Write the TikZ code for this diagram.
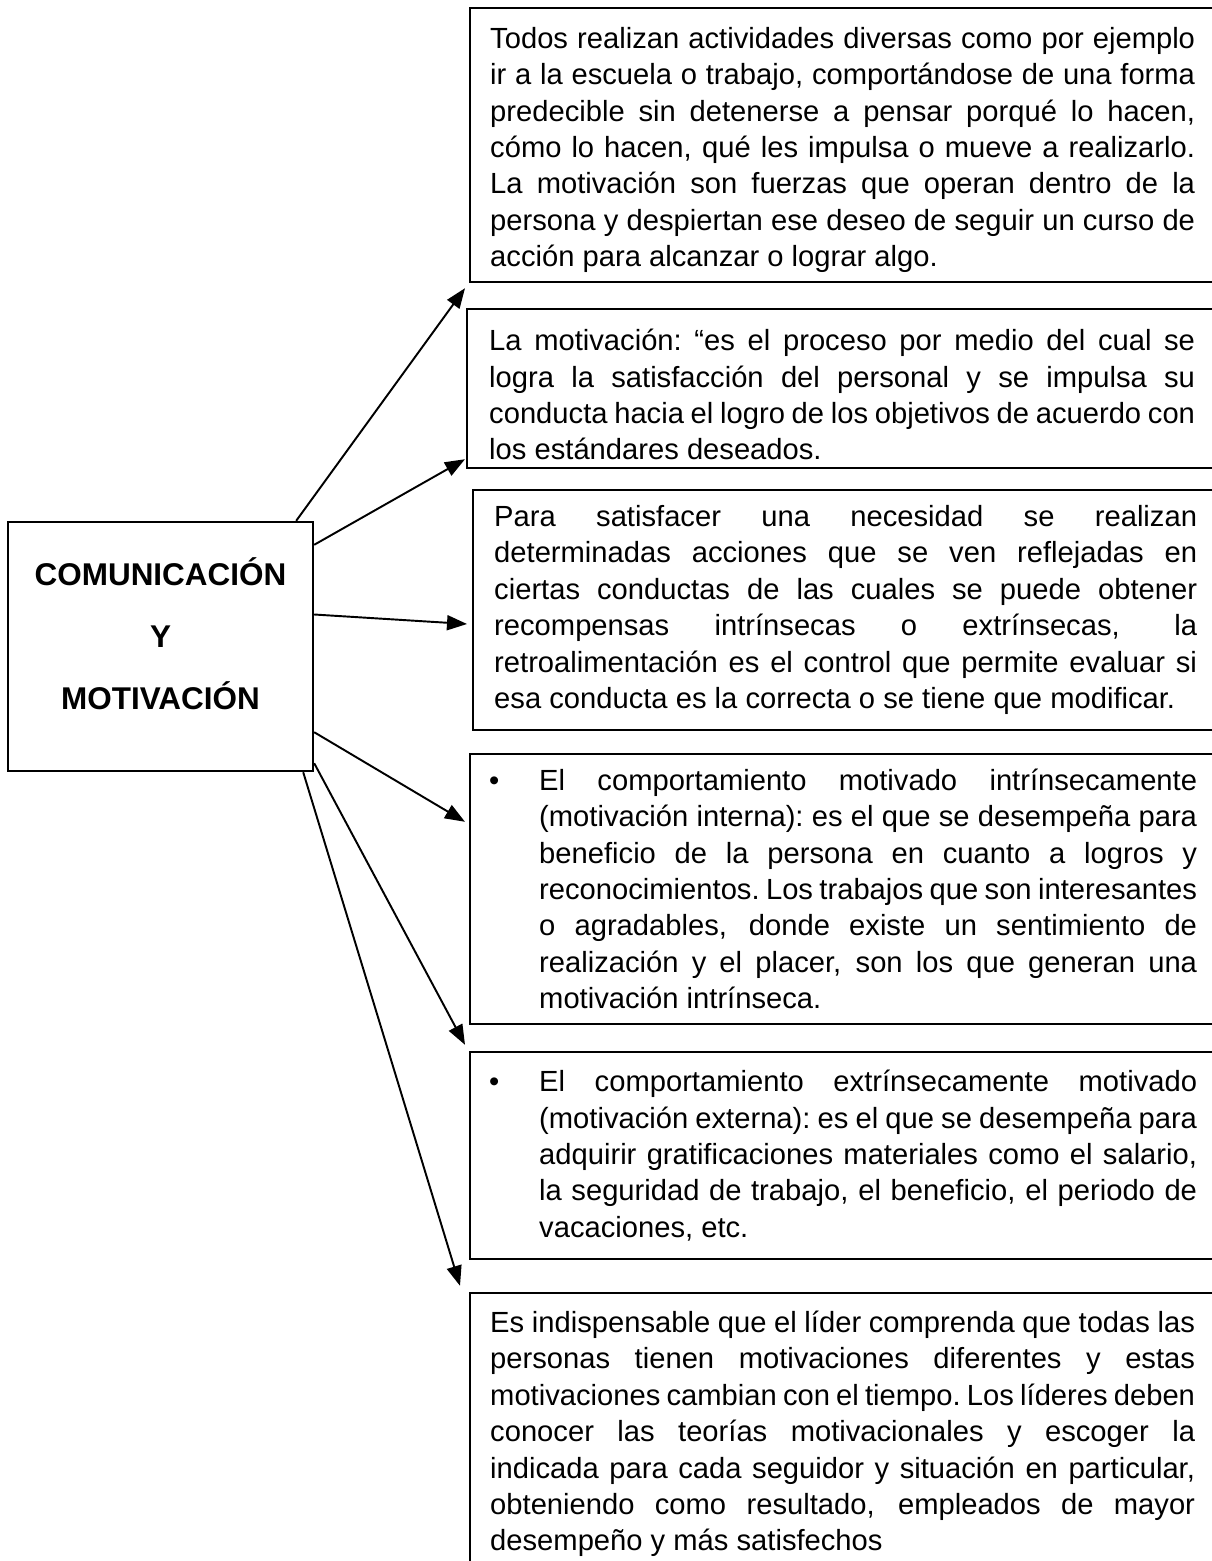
\documentclass[tikz,border=0pt]{standalone}
\usepackage{fontspec}
\setmainfont{Liberation Sans}
\usetikzlibrary{arrows.meta,calc,positioning}
\tikzstyle{txtbox} = [draw, line width=1.4pt, anchor=west, inner xsep=0.4cm, inner ysep=0pt, font=\fontsize{16.6}{20.7}\selectfont]
\tikzstyle{hubbox} = [draw, line width=1.4pt, minimum width=6.1cm, minimum height=4.98cm, inner sep=0pt, font=\fontsize{17.9}{35.2}\selectfont\bfseries]
\tikzstyle{arrow} = [line width=1.1pt, -{Triangle[length=0.4cm,width=0.3cm]}]
\newcommand{\boxtext}[2]{\parbox{#1}{\spaceskip=0.278em plus 0.8em minus 0.12em\xspaceskip=\spaceskip
\tolerance=10000 \hbadness=10000 \hfuzz=20pt #2}\hspace{1cm}}
\newcommand{\bul}{\noindent\llap{\textbullet\hspace{0.8cm}}}

\begin{document}
\begin{tikzpicture}[x=0.02cm,y=-0.02cm]
\useasboundingbox (0,0) rectangle (1212,1561);
\clip (0,0) rectangle (1212,1561);
% centre
\draw (160.5,646.5) node (hub) [hubbox] {\begin{tabular}{@{}c@{}}COMUNICACIÓN\\Y\\MOTIVACIÓN\\[0.46cm]\end{tabular}};
% boxes on the right
\draw (469,145) node (box1) [txtbox, minimum height=5.48cm] {\boxtext{14.1cm}{\rule{0pt}{0.62cm}Todos realizan actividades diversas como por ejemplo\linebreak
ir a la escuela o trabajo, comportándose de una forma\linebreak
predecible sin detenerse a pensar porqué lo hacen,\linebreak
cómo lo hacen, qué les impulsa o mueve a realizarlo.\linebreak
La motivación son fuerzas que operan dentro de la\linebreak
persona y despiertan ese deseo de seguir un curso de\linebreak
acción para alcanzar o lograr algo.}};
\draw (466,388.5) node (box2) [txtbox, minimum height=3.18cm, inner xsep=0.44cm] {\boxtext{14.12cm}{\rule{0pt}{0.68cm}La motivación: “es el proceso por medio del cual se\linebreak
logra la satisfacción del personal y se impulsa su\linebreak
conducta hacia el logro de los objetivos de acuerdo con\linebreak
los estándares deseados.}};
\draw (472,610) node (box3) [txtbox, minimum height=4.8cm, inner xsep=0.42cm] {\boxtext{14.06cm}{Para satisfacer una necesidad se realizan\linebreak
determinadas acciones que se ven reflejadas en\linebreak
ciertas conductas de las cuales se puede obtener\linebreak
recompensas intrínsecas o extrínsecas, la\linebreak
retroalimentación es el control que permite evaluar si\linebreak
esa conducta es la correcta o se tiene que modificar.}};
\draw (469,889) node (box4) [txtbox, minimum height=5.4cm, inner xsep=1.38cm] {\boxtext{13.16cm}{\bul El comportamiento motivado intrínsecamente\linebreak
(motivación interna): es el que se desempeña para\linebreak
beneficio de la persona en cuanto a logros y\linebreak
reconocimientos. Los trabajos que son interesantes\linebreak
o agradables, donde existe un sentimiento de\linebreak
realización y el placer, son los que generan una\linebreak
motivación intrínseca.}};
\draw (469,1155.5) node (box5) [txtbox, minimum height=4.14cm, inner xsep=1.38cm] {\boxtext{13.16cm}{\bul El comportamiento extrínsecamente motivado\linebreak
(motivación externa): es el que se desempeña para\linebreak
adquirir gratificaciones materiales como el salario,\linebreak
la seguridad de trabajo, el beneficio, el periodo de\linebreak
vacaciones, etc.}};
\draw (469,1434) node (box6) [txtbox, minimum height=5.64cm] {\boxtext{14.1cm}{Es indispensable que el líder comprenda que todas las\linebreak
personas tienen motivaciones diferentes y estas\linebreak
motivaciones cambian con el tiempo. Los líderes deben\linebreak
conocer las teorías motivacionales y escoger la\linebreak
indicada para cada seguidor y situación en particular,\linebreak
obteniendo como resultado, empleados de mayor\linebreak
desempeño y más satisfechos}};
% arrows
\draw[arrow] ([shift={(-18,0)}]hub.north east) -- ([shift={(-4,5)}]box1.south west);
\draw[arrow] ([shift={(0,24)}]hub.north east) -- ([shift={(-1,-10)}]box2.south west);
\draw[arrow] ([shift={(0,-32)}]hub.east) -- ([shift={(-5,14)}]box3.west);
\draw[arrow] ([shift={(0,-40)}]hub.south east) -- ([shift={(-4,69)}]box4.north west);
\draw[arrow] ([shift={(0,-9)}]hub.south east) -- ([shift={(-4,-6)}]box5.north west);
\draw[arrow] ([shift={(-11,0)}]hub.south east) -- ([shift={(-9,-6)}]box6.north west);
\end{tikzpicture}
\end{document}
